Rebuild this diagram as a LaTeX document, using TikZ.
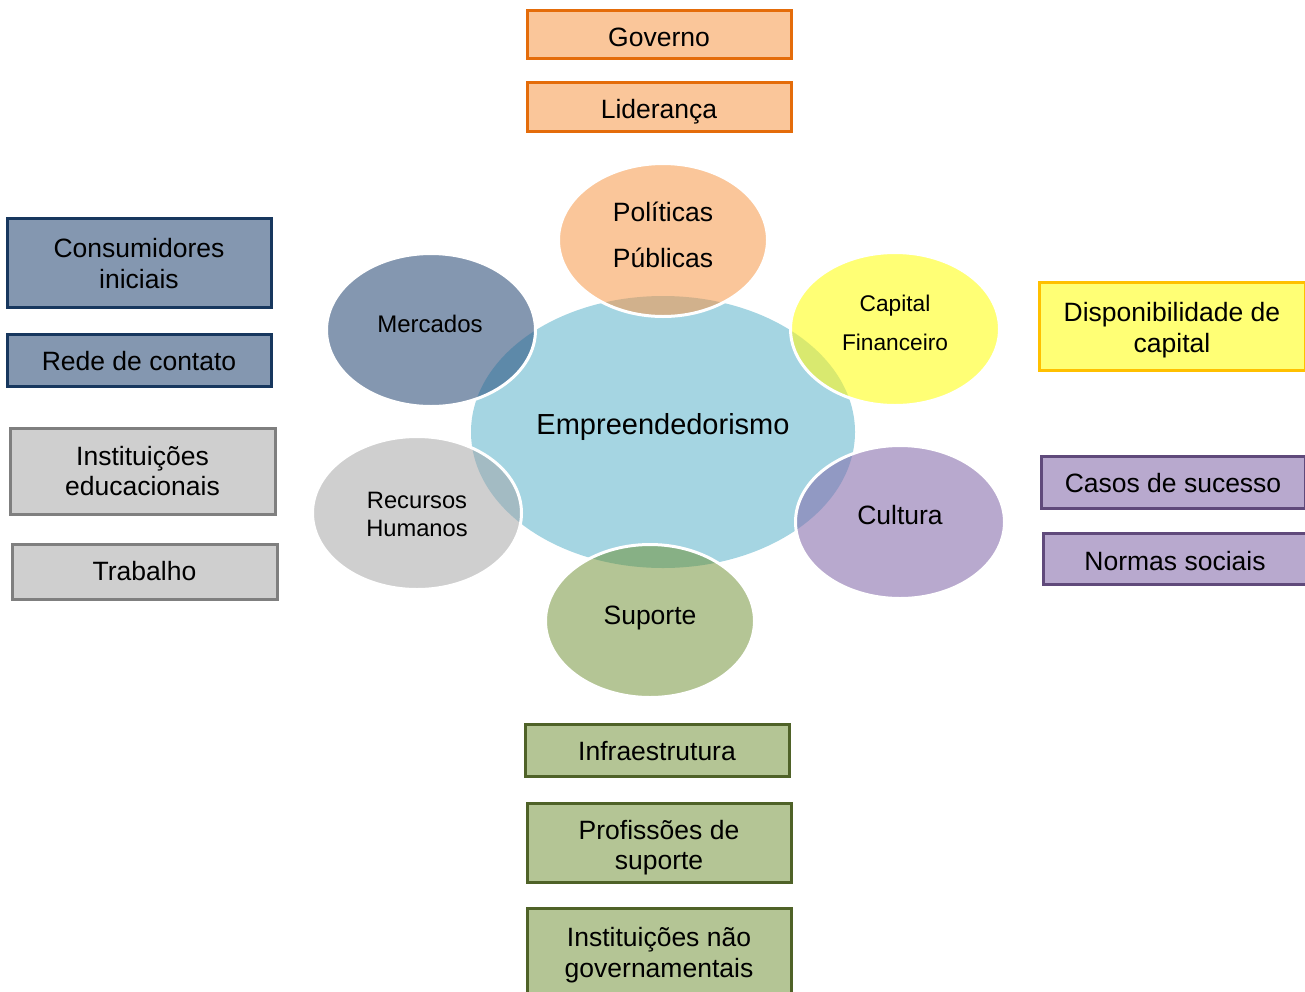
\documentclass[tikz,border=0pt]{standalone}
\usepackage{fontspec}
\setmainfont{Liberation Sans}
\usetikzlibrary{shapes.geometric}
\definecolor{cBlue}{HTML}{A5D5E2}
\definecolor{cOrg}{HTML}{FAC69A}
\definecolor{cOrgO}{HTML}{D1B18C}
\definecolor{cOrgB}{HTML}{E46C0A}
\definecolor{cNavy}{HTML}{8497B0}
\definecolor{cNavyO}{HTML}{5D89A9}
\definecolor{cNavyB}{HTML}{17375E}
\definecolor{cYel}{HTML}{FFFF75}
\definecolor{cYelO}{HTML}{D9E96F}
\definecolor{cYelB}{HTML}{FFC000}
\definecolor{cGray}{HTML}{CFCFCF}
\definecolor{cGrayO}{HTML}{A3BBC3}
\definecolor{cGrayB}{HTML}{7F7F7F}
\definecolor{cPur}{HTML}{B8A9CE}
\definecolor{cPurO}{HTML}{9199C3}
\definecolor{cPurB}{HTML}{604A7B}
\definecolor{cGrn}{HTML}{B4C595}
\definecolor{cGrnO}{HTML}{87B085}
\definecolor{cGrnB}{HTML}{4F6228}
\begin{document}
\begin{tikzpicture}[x=1pt,y=-1pt,
  box/.style={rectangle, line width=3pt, minimum width=264pt, inner sep=0pt},
  boxlab/.style={align=center, inner sep=0pt, font=\fontsize{26.5}{30.5}\selectfont},
  orgbox/.style={box, fill=cOrg, draw=cOrgB},
  navybox/.style={box, fill=cNavy, draw=cNavyB},
  graybox/.style={box, fill=cGray, draw=cGrayB},
  yelbox/.style={box, fill=cYel, draw=cYelB},
  purbox/.style={box, fill=cPur, draw=cPurB},
  grnbox/.style={box, fill=cGrn, draw=cGrnB},
  sat/.style={ellipse, inner sep=0pt, minimum width=209pt, minimum height=153pt},
  ring/.style={draw=white, line width=3pt},
  lab/.style={align=center, inner sep=0pt, font=\fontsize{26.5}{31}\selectfont}
]
\useasboundingbox (0,0) rectangle (1305,991);

% boxes
\node[orgbox, minimum height=48pt, label={[boxlab, yshift=-3pt]center:Governo}] (gov) at (659,34) {};
\node[orgbox, minimum height=49pt, label={[boxlab, yshift=-5pt]center:Liderança}] (lid) at (659,106.5) {};
\node[navybox, minimum height=89pt, label={[boxlab, yshift=-1pt]center:{Consumidores\\iniciais}}] (cons) at (139,262.5) {};
\node[navybox, minimum height=52pt, label={[boxlab, yshift=-1pt]center:Rede de contato}] (rede) at (139,360) {};
\node[graybox, minimum width=265pt, minimum height=86pt, label={[boxlab]center:{Instituições\\educacionais}}] (inst) at (142.5,471) {};
\node[graybox, minimum width=265pt, minimum height=55pt, label={[boxlab]center:Trabalho}] (trab) at (144.5,571.5) {};
\node[yelbox, minimum width=266pt, minimum height=88pt, label={[boxlab, yshift=-4pt]center:{Disponibilidade de\\capital}}] (disp) at (1172,326) {};
\node[purbox, minimum height=52pt, label={[boxlab, yshift=-1pt]center:Casos de sucesso}] (casos) at (1173,482) {};
\node[purbox, minimum height=51pt, label={[boxlab, yshift=-3pt]center:Normas sociais}] (normas) at (1175,558.5) {};
\node[grnbox, minimum height=52pt, label={[boxlab, yshift=-1pt]center:Infraestrutura}] (infra) at (657,750) {};
\node[grnbox, minimum height=79pt, label={[boxlab, yshift=-5pt]center:{Profissões de\\suporte}}] (prof) at (659,842.5) {};
\node[grnbox, minimum height=92pt, label={[boxlab, yshift=-1pt]center:{Instituições não\\governamentais}}] (ngo) at (659,954) {};

% central ellipse
\node[ellipse, inner sep=0pt, minimum width=384pt, minimum height=272pt, fill=cBlue] (emp) at (663,432) {};

% satellites
\node[sat, fill=cOrg] (pol) at (663,240) {};
\node[sat, fill=cNavy] (mer) at (431,330) {};
\node[sat, fill=cYel] (cap) at (895,329) {};
\node[sat, fill=cGray] (rec) at (417,513) {};
\node[sat, fill=cPur] (cul) at (900,522) {};
\node[sat, fill=cGrn] (sup) at (650,621) {};

% overlaps with the central ellipse
\begin{scope}
  \clip (emp) ellipse [x radius=192pt, y radius=136pt];
  \fill[cOrgO] (pol) ellipse [x radius=104.5pt, y radius=76.5pt];
  \fill[cNavyO] (mer) ellipse [x radius=104.5pt, y radius=76.5pt];
  \fill[cYelO] (cap) ellipse [x radius=104.5pt, y radius=76.5pt];
  \fill[cGrayO] (rec) ellipse [x radius=104.5pt, y radius=76.5pt];
  \fill[cPurO] (cul) ellipse [x radius=104.5pt, y radius=76.5pt];
  \fill[cGrnO] (sup) ellipse [x radius=104.5pt, y radius=76.5pt];
\end{scope}
\foreach \s in {pol,mer,cap,rec,cul,sup}
  \draw[ring] (\s) ellipse [x radius=104.5pt, y radius=76.5pt];

% labels
\node[lab, font=\fontsize{29}{34}\selectfont] (empt) at (663,427) {Empreendedorismo};
\node[lab, font=\fontsize{26.5}{46}\selectfont] (polt) at (663,235) {Políticas\\Públicas};
\node[lab, font=\fontsize{24}{28}\selectfont] (mert) at (430,324) {Mercados};
\node[lab, font=\fontsize{22.7}{39}\selectfont] (capt) at (895,322.5) {Capital\\Financeiro};
\node[lab, font=\fontsize{23.7}{28}\selectfont] (rect) at (417,514) {Recursos\\Humanos};
\node[lab] (cult) at (900,515) {Cultura};
\node[lab] (supt) at (650,618) {Suporte};
\end{tikzpicture}
\end{document}
